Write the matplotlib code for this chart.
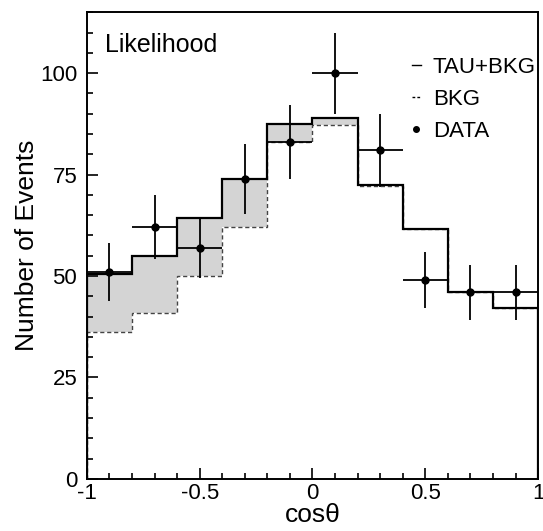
import numpy as np
import matplotlib.pyplot as plt
from matplotlib.lines import Line2D
from matplotlib.ticker import MultipleLocator

plt.rcParams['font.family'] = ['Liberation Sans', 'DejaVu Sans']

# Histogram bins in cos(theta)
edges = np.linspace(-1, 1, 11)
centers = 0.5 * (edges[:-1] + edges[1:])

# Expected: signal + background, and background only
tau_bkg = [50.4, 55.0, 64.2, 73.8, 87.4, 89.0, 72.5, 61.6, 46.1, 42.2]
bkg = [36.1, 41.0, 50.0, 62.2, 83.1, 87.3, 72.2, 61.5, 46.0, 42.0]

# Observed data
data = [51, 62, 57, 74, 83, 100, 81, 49, 46, 46]
data_err = np.sqrt(data)

fig = plt.figure(figsize=(5.43, 5.31), dpi=100)
ax = fig.add_axes([0.160, 0.098, 0.831, 0.879])

# Shaded signal contribution
ax.stairs(tau_bkg, edges, baseline=bkg, fill=True, color='#d4d4d4', lw=0)
ax.stairs(bkg, edges, baseline=0, color='#444444', lw=1.0, linestyle=(0, (3, 2)))
ax.stairs(tau_bkg, edges, baseline=0, color='black', lw=1.6)

ax.errorbar(centers, data, yerr=data_err, xerr=0.1, fmt='o', color='black',
            ms=5, elinewidth=1.3, capsize=0)

ax.set_xlim(-1, 1)
ax.set_ylim(0, 115)
ax.set_xticks([-1, -0.5, 0, 0.5, 1])
ax.set_xticklabels(['-1', '-0.5', '0', '0.5', '1'])
ax.set_yticks([0, 25, 50, 75, 100])
ax.xaxis.set_minor_locator(MultipleLocator(0.1))
ax.yaxis.set_minor_locator(MultipleLocator(5))
ax.tick_params(which='both', direction='in', top=False, right=False,
               labelsize=16, width=1.2)
ax.tick_params(which='major', length=8)
ax.tick_params(which='minor', length=4)
ax.tick_params(axis='x', pad=3)
ax.tick_params(axis='y', pad=7)
for sp in ax.spines.values():
    sp.set_linewidth(1.4)

ax.set_xlabel('cos\u03b8', fontsize=19, labelpad=-1)
ax.set_ylabel('Number of Events', fontsize=19, labelpad=0.5)

ax.text(0.04, 0.93, 'Likelihood', transform=ax.transAxes, fontsize=18,
        va='center', ha='left')

handles = [Line2D([], [], color='black', lw=1.0),
           Line2D([], [], color='black', lw=1.0, linestyle=(0, (2, 1.5))),
           Line2D([], [], color='black', marker='o', ms=4, lw=0)]
ax.legend(handles, ['TAU+BKG', 'BKG', 'DATA'], loc='upper right',
          bbox_to_anchor=(0.995, 0.904), borderaxespad=0, borderpad=0,
          frameon=False, fontsize=16,
          handlelength=0.4, handletextpad=0.55, labelspacing=0.5)

plt.savefig('out.png', dpi=100)
